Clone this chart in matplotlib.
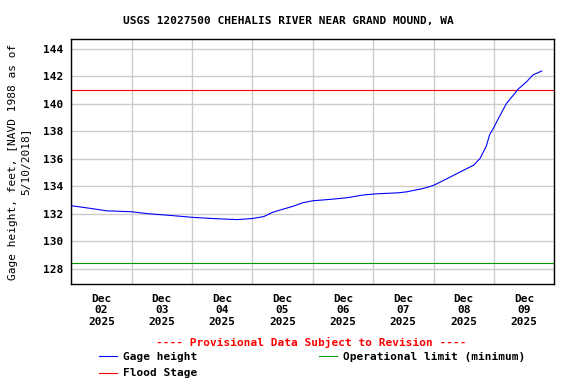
"""
Hidrograma USGS 12027500 - Chehalis River near Grand Mound, WA.
"""

import matplotlib
matplotlib.use("Agg")
import matplotlib.pyplot as plt
import matplotlib.dates as mdates
import pandas as pd

# leituras aproximadas do grafico (horario local)
tempos = [
    "2025-12-02 00:00", "2025-12-02 07:30", "2025-12-02 14:00",
    "2025-12-03 00:00", "2025-12-03 07:00", "2025-12-03 15:00",
    "2025-12-04 00:30", "2025-12-04 10:00", "2025-12-04 18:00",
    "2025-12-05 00:00", "2025-12-05 04:30", "2025-12-05 08:00",
    "2025-12-05 12:00", "2025-12-05 16:30", "2025-12-05 20:00",
    "2025-12-06 00:00", "2025-12-06 06:45", "2025-12-06 13:30",
    "2025-12-06 20:00", "2025-12-07 01:30", "2025-12-07 10:00",
    "2025-12-07 13:15", "2025-12-07 20:00", "2025-12-08 00:00",
    "2025-12-08 05:15", "2025-12-08 10:30", "2025-12-08 16:00",
    "2025-12-08 18:30", "2025-12-08 21:00", "2025-12-08 22:15",
    "2025-12-08 23:45", "2025-12-09 02:30", "2025-12-09 05:00",
    "2025-12-09 07:45", "2025-12-09 09:30", "2025-12-09 13:00",
    "2025-12-09 15:30", "2025-12-09 19:00",
]
altura = [
    132.59, 132.40, 132.22,
    132.15, 132.00, 131.89,
    131.74, 131.64, 131.58,
    131.66, 131.80, 132.11,
    132.33, 132.57, 132.81,
    132.95, 133.05, 133.17,
    133.37, 133.46, 133.53,
    133.60, 133.85, 134.07,
    134.55, 135.04, 135.55,
    136.04, 136.94, 137.74,
    138.22, 139.19, 140.04,
    140.65, 141.06, 141.62,
    142.11, 142.40,
]
cota_cheia = 141.0
limite_operacional = 128.4
inicio, fim = "2025-12-02", "2025-12-10"

titulo = "USGS 12027500 CHEHALIS RIVER NEAR GRAND MOUND, WA"
rotulo_y = "Gage height, feet, [NAVD 1988 as of\n5/10/2018]"
aviso = "---- Provisional Data Subject to Revision ----"

plt.rcParams["font.family"] = ["DejaVu Sans Mono"]
plt.rcParams["font.weight"] = "bold"
plt.rcParams["font.size"] = 8

t = pd.to_datetime(pd.Series(tempos))

fig = plt.figure(figsize=(5.76, 3.84), dpi=100)
ax = fig.add_axes([0.1238, 0.2604, 0.8385, 0.6373])

ax.plot(t, altura, color="#0000ff", lw=0.8, label="Gage height", zorder=3)
ax.axhline(cota_cheia, color="#ff0000", lw=0.8, label="Flood Stage", zorder=2)
ax.axhline(limite_operacional, color="#009900", lw=0.8,
           label="Operational limit (minimum)", zorder=2)

ax.set_xlim(pd.Timestamp(inicio), pd.Timestamp(fim))
ax.set_ylim(126.89, 144.71)

ax.set_yticks(range(128, 145, 2))
ax.xaxis.set_major_locator(mdates.DayLocator())
ax.xaxis.set_major_formatter(plt.NullFormatter())
ax.xaxis.set_minor_locator(mdates.HourLocator(byhour=[12]))
ax.xaxis.set_minor_formatter(mdates.DateFormatter("%b\n%d\n%Y"))

ax.tick_params(axis="both", which="both", length=0)
ax.tick_params(axis="y", pad=6)
ax.tick_params(axis="x", which="minor", pad=7)
ax.grid(True, which="major", color="#cccccc", lw=1.0, zorder=0)
for s in ax.spines.values():
    s.set_linewidth(1.0)

ax.set_ylabel(rotulo_y, labelpad=9, linespacing=1.3)
fig.text(0.5, 0.945, titulo, ha="center", va="center")
fig.text(0.541, 0.107, aviso, ha="center", va="center", color="#ff0000")

fig.legend(loc="upper left", bbox_to_anchor=(0.172, 0.083), ncol=2,
           frameon=False, borderpad=0, borderaxespad=0, handlelength=1.6,
           handletextpad=0.55, columnspacing=11.0, labelspacing=0.57)

fig.savefig("out.png", dpi=100)
